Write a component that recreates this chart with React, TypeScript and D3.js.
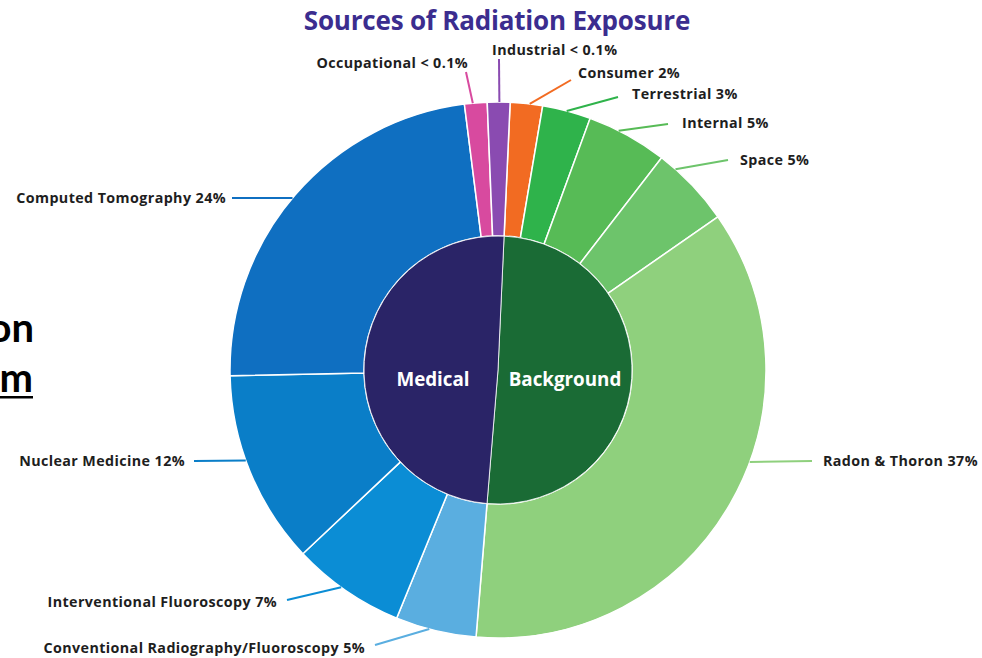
import React from "react";
import * as d3 from "d3";

// Outer ring, clockwise from 12 o'clock
const categories = [
  "Consumer",
  "Terrestrial",
  "Internal",
  "Space",
  "Radon & Thoron",
  "Conventional Radiography/Fluoroscopy",
  "Interventional Fluoroscopy",
  "Nuclear Medicine",
  "Computed Tomography",
  "Occupational",
  "Industrial",
];
// percent of exposure; the two "< 0.1%" sources get a visible sliver
const shares = [2, 3, 5, 5, 37, 5, 7, 12, 24, 1.4, 1.4];
const valueLabels = ["2%", "3%", "5%", "5%", "37%", "5%", "7%", "12%", "24%", "< 0.1%", "< 0.1%"];
const groups = ["Background", "Background", "Background", "Background", "Background", "Medical", "Medical", "Medical", "Medical", "Medical", "Medical"];
const groupNames = ["Background", "Medical"];

const ringColors = [
  "#f26b22", "#2fb34b", "#57bb56", "#6dc46b", "#8fd07d",
  "#5aaee0", "#0b8dd5", "#0a7ec8", "#0f6fc1", "#d84a9f", "#8a4bb1",
];
const groupColors = ["#1a6b35", "#2a2467"];

// label placement: text anchor point, side, leader start, position of leader end within the slice
const labelLayout = [
  { tx: 578, ty: 78, anchor: "start", sx: 571, sy: 80, t: 0.6 },
  { tx: 632, ty: 99, anchor: "start", sx: 618, sy: 97, t: 0.5 },
  { tx: 682, ty: 128, anchor: "start", sx: 668, sy: 124, t: 0.38 },
  { tx: 740, ty: 165, anchor: "start", sx: 728, sy: 160, t: 0.22 },
  { tx: 823, ty: 466, anchor: "start", sx: 812, sy: 461, t: 0.424 },
  { tx: 365, ty: 653, anchor: "end", sx: 375, sy: 645, t: 0.58 },
  { tx: 277, ty: 607, anchor: "end", sx: 287, sy: 600, t: 0.555 },
  { tx: 185, ty: 466, anchor: "end", sx: 194, sy: 461, t: 0.56 },
  { tx: 226, ty: 203, anchor: "end", sx: 232, sy: 198, t: 0.49 },
  { tx: 468, ty: 68, anchor: "end", sx: 466, sy: 72, t: 0.37 },
  { tx: 492, ty: 55, anchor: "start", sx: 499, sy: 59, t: 0.53 },
];

const W = 982;
const H = 658;
const cx = 498;
const cy = 370;
const rOuter = 268;
const rInner = 134;
const startDeg = 2.6;
const font = "'Open Sans', 'DejaVu Sans', sans-serif";

export default function App() {
  const toRad = (d: number) => (d * Math.PI) / 180;
  const start = toRad(startDeg);

  const pie = d3
    .pie<number>()
    .value((d) => d)
    .sort(null)
    .startAngle(start)
    .endAngle(start + 2 * Math.PI);
  const ringArcs = pie(shares);

  const groupTotals = groupNames.map((g) =>
    d3.sum(shares.filter((_, i) => groups[i] === g))
  );
  const innerArcs = pie(groupTotals);

  const ringArc = d3.arc<d3.PieArcDatum<number>>().innerRadius(rInner).outerRadius(rOuter);
  const innerArc = d3.arc<d3.PieArcDatum<number>>().innerRadius(0).outerRadius(rInner);

  const edgePoint = (a: d3.PieArcDatum<number>, t: number) => {
    const ang = a.startAngle + (a.endAngle - a.startAngle) * t;
    return [cx + rOuter * Math.sin(ang), cy - rOuter * Math.cos(ang)];
  };

  return (
    <div style={{ position: "absolute", left: 0, top: 0 }}>
      <svg width={W} height={H} viewBox={`0 0 ${W} ${H}`} style={{ display: "block", background: "#fff" }}>
        {/* slide heading fragment at the left edge */}
        <g fontFamily="Lato, 'Open Sans', sans-serif" fontWeight={700} fontSize={40} fill="#000">
          <text x={34} y={342} textAnchor="end">on</text>
          <text x={33} y={392} textAnchor="end">m</text>
          <rect x={0} y={396} width={33} height={2.5} fill="#000" />
        </g>

        <text
          x={497}
          y={30}
          textAnchor="middle"
          fontFamily={font}
          fontWeight={700}
          fontSize={26}
          fill="#3b2d8f"
          letterSpacing={-0.2}
        >
          Sources of Radiation Exposure
        </text>

        <g transform={`translate(${cx},${cy})`}>
          {ringArcs.map((a, i) => (
            <path key={categories[i]} d={ringArc(a) ?? ""} fill={ringColors[i]} stroke="#fff" strokeWidth={1.5} />
          ))}
          {innerArcs.map((a, i) => (
            <path key={groupNames[i]} d={innerArc(a) ?? ""} fill={groupColors[i]} stroke="#fff" strokeWidth={0.8} />
          ))}
        </g>

        <g fontFamily={font} fontWeight={700} fontSize={18.8} fill="#fff" textAnchor="middle">
          <text x={433} y={386}>Medical</text>
          <text x={565} y={386}>Background</text>
        </g>

        {ringArcs.map((a, i) => {
          const L = labelLayout[i];
          const [ex, ey] = edgePoint(a, L.t);
          return (
            <g key={"lab" + i}>
              <line x1={L.sx} y1={L.sy} x2={ex} y2={ey} stroke={ringColors[i]} strokeWidth={2} />
              <text
                x={L.tx}
                y={L.ty}
                textAnchor={L.anchor as "start" | "end"}
                fontFamily={font}
                fontWeight={700}
                fontSize={14.3}
                fill="#1e1e1e"
                letterSpacing={0.4}
              >
                {`${categories[i]} ${valueLabels[i]}`}
              </text>
            </g>
          );
        })}
      </svg>
    </div>
  );
}
